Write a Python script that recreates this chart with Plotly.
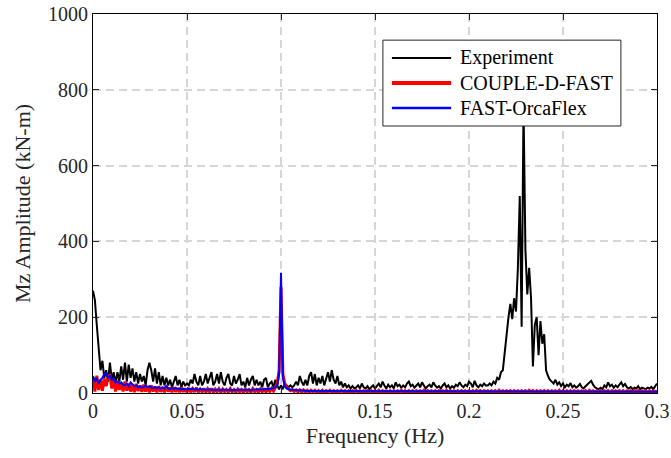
import numpy as np
import plotly.graph_objects as go

# Frequency grid (Hz), 0.001 Hz resolution
freq = np.round(np.linspace(0.0, 0.3, 301), 3)

# Mz amplitude spectra (kN-m), one value per frequency bin
experiment = [
    270, 245, 180, 110, 60, 85, 40, 60, 30, 80,
    35, 55, 25, 55, 30, 70, 35, 80, 30, 75,
    40, 65, 30, 55, 25, 50, 30, 45, 20, 60,
    80, 60, 30, 65, 25, 55, 20, 45, 20, 40,
    20, 35, 15, 30, 45, 20, 35, 15, 30, 20,
    25, 20, 35, 25, 50, 30, 20, 45, 20, 30,
    50, 25, 40, 55, 20, 30, 50, 25, 55, 30,
    20, 40, 50, 25, 20, 45, 25, 35, 50, 20,
    30, 15, 40, 20, 35, 45, 20, 35, 20, 30,
    15, 35, 40, 15, 25, 30, 15, 35, 20, 10,
    20, 10, 25, 20, 15, 20, 15, 20, 30, 20,
    45, 30, 20, 35, 20, 45, 55, 25, 50, 20,
    40, 25, 45, 20, 35, 55, 30, 60, 35, 25,
    45, 20, 30, 15, 25, 15, 20, 12, 18, 12,
    15, 20, 12, 25, 15, 12, 18, 10, 15, 20,
    12, 18, 25, 15, 30, 20, 12, 22, 15, 20,
    12, 28, 18, 22, 14, 20, 15, 25, 30, 18,
    22, 14, 20, 25, 15, 28, 20, 12, 18, 22,
    15, 28, 20, 14, 18, 12, 20, 25, 15, 20,
    12, 18, 14, 22, 18, 28, 20, 15, 22, 18,
    30, 25, 15, 32, 20, 15, 22, 18, 25, 20,
    20, 25, 20, 30, 25, 40, 35, 55, 60, 110,
    150, 200, 235, 195, 250, 215, 330, 520, 175, 760,
    380, 260, 330, 250, 70, 180, 200, 100, 190, 130,
    155, 60, 45, 35, 30, 25, 35, 22, 28, 18,
    25, 15, 22, 18, 26, 15, 20, 14, 18, 24,
    15, 12, 18, 22, 28, 32, 22, 15, 12, 10,
    14, 10, 20, 15, 28, 18, 22, 14, 20, 15,
    22, 28, 18, 24, 15, 12, 16, 10, 14, 12,
    18, 10, 14, 12, 10, 14, 12, 16, 10, 18,
    25,
]

couple_d_fast = [
    42, 4, 46, 8, 35, 6, 38, 18, 44, 46,
    12, 38, 4, 32, 8, 28, 4, 30, 6, 25,
    4, 22, 2, 24, 5, 20, 3, 22, 4, 18,
    2, 20, 4, 17, 2, 18, 3, 16, 2, 19,
    4, 14, 2, 15, 3, 13, 2, 14, 3, 12,
    2, 13, 2, 11, 3, 14, 2, 10, 3, 12,
    2, 11, 3, 12, 2, 10, 3, 11, 2, 10,
    3, 9, 2, 11, 3, 9, 2, 10, 3, 9,
    2, 10, 3, 9, 2, 11, 3, 9, 2, 10,
    3, 12, 2, 10, 4, 12, 5, 15, 25, 60,
    280, 50, 25, 15, 10, 6, 9, 4, 8, 3,
    8, 2, 8, 3, 7, 2, 7, 3, 7, 2,
    6, 2, 7, 1, 6, 3, 7, 2, 6, 1,
    6, 2, 7, 3, 6, 1, 6, 2, 6, 3,
    7, 1, 6, 2, 6, 3, 6, 1, 6, 2,
    6, 2, 7, 1, 6, 3, 6, 2, 6, 1,
    6, 2, 6, 3, 7, 1, 6, 2, 6, 2,
    6, 1, 6, 3, 6, 2, 7, 1, 6, 3,
    6, 2, 6, 1, 6, 3, 6, 2, 7, 1,
    6, 3, 6, 2, 6, 1, 6, 2, 6, 3,
    6, 1, 6, 2, 7, 3, 6, 1, 6, 2,
    6, 3, 6, 2, 6, 1, 7, 2, 6, 3,
    6, 2, 6, 1, 6, 3, 6, 2, 6, 1,
    6, 2, 7, 3, 6, 1, 6, 2, 6, 3,
    6, 1, 6, 2, 6, 3, 6, 2, 7, 1,
    6, 3, 6, 2, 6, 1, 6, 2, 6, 3,
    6, 2, 6, 1, 7, 3, 6, 2, 6, 1,
    6, 2, 6, 3, 6, 1, 6, 2, 6, 3,
    6, 1, 6, 2, 6, 3, 6, 2, 7, 1,
    6, 3, 6, 2, 6, 1, 6, 2, 6, 3,
    5,
]

fast_orcaflex = [
    45, 30, 40, 25, 35, 40, 50, 52, 40, 45,
    35, 38, 28, 30, 25, 28, 22, 20, 25, 18,
    28, 22, 18, 20, 15, 18, 14, 16, 20, 15,
    18, 14, 12, 16, 13, 15, 11, 14, 12, 18,
    12, 10, 13, 11, 14, 10, 12, 9, 11, 10,
    9, 11, 10, 12, 9, 10, 8, 11, 9, 10,
    8, 9, 10, 8, 9, 7, 9, 8, 7, 9,
    8, 7, 8, 9, 7, 8, 7, 8, 9, 8,
    7, 8, 9, 8, 7, 9, 8, 9, 10, 9,
    10, 9, 11, 10, 12, 11, 13, 15, 20, 50,
    317, 40, 18, 12, 10, 9, 8, 8, 7, 7,
    7, 6, 6, 6, 5, 5, 5, 5, 5, 4,
    4, 4, 4, 4, 4, 4, 4, 4, 4, 4,
    4, 4, 4, 3, 4, 4, 3, 4, 4, 3,
    4, 3, 4, 3, 4, 3, 3, 4, 3, 3,
    3, 3, 4, 3, 3, 3, 3, 3, 4, 3,
    3, 3, 3, 3, 3, 3, 3, 3, 3, 3,
    3, 3, 3, 3, 3, 3, 3, 3, 3, 3,
    3, 3, 3, 3, 3, 3, 3, 3, 3, 3,
    3, 3, 3, 3, 3, 3, 3, 3, 3, 3,
    3, 3, 3, 3, 3, 3, 3, 3, 3, 3,
    3, 3, 3, 3, 3, 3, 3, 3, 3, 3,
    3, 3, 3, 3, 3, 3, 3, 3, 3, 3,
    3, 3, 3, 3, 3, 3, 3, 3, 3, 3,
    3, 3, 3, 3, 3, 3, 3, 3, 3, 3,
    3, 3, 3, 3, 3, 3, 3, 3, 3, 3,
    3, 3, 3, 3, 3, 3, 3, 3, 3, 3,
    3, 3, 3, 3, 3, 3, 3, 3, 3, 3,
    3, 3, 3, 3, 3, 3, 3, 3, 3, 3,
    3, 3, 3, 3, 3, 3, 3, 3, 3, 3,
    3,
]

series_names = ["Experiment", "COUPLE-D-FAST", "FAST-OrcaFlex"]
series_colors = ["#000000", "#ff0000", "#0000ff"]
series_widths = [2.0, 3.0, 2.0]

x_tickvals = [0, 0.05, 0.1, 0.15, 0.2, 0.25, 0.3]
x_ticktext = ["0", "0.05", "0.1", "0.15", "0.2", "0.25", "0.3"]
y_tickvals = [0, 200, 400, 600, 800, 1000]

FONT = "Liberation Serif"
TEXT = "#262626"

fig = go.Figure()
for name, ys, color, width in zip(series_names,
                                  [experiment, couple_d_fast, fast_orcaflex],
                                  series_colors, series_widths):
    fig.add_trace(go.Scatter(x=freq, y=ys, mode="lines", name=name,
                             line=dict(color=color, width=width),
                             showlegend=False))

axis_common = dict(
    showline=True, linecolor="#000000", linewidth=1, mirror="ticks",
    ticks="inside", ticklen=6, tickcolor="#262626", tickwidth=1,
    showgrid=True, gridcolor="#d6d6d6", gridwidth=1.5, griddash="8px,5px",
    zeroline=False, automargin=False,
    tickfont=dict(family=FONT, size=20, color=TEXT),
)

fig.update_xaxes(range=[0, 0.3], tickvals=x_tickvals, ticktext=x_ticktext,
                 title=dict(text="Frequency (Hz)", standoff=6,
                            font=dict(family=FONT, size=22, color=TEXT)),
                 **axis_common)
fig.update_yaxes(range=[0, 1000], tickvals=y_tickvals,
                 title=dict(text="Mz Amplitude (kN-m)", standoff=11,
                            font=dict(family=FONT, size=22, color=TEXT)),
                 **axis_common)

# Legend box drawn in plot-area (paper) coordinates
box_x0, box_x1 = 0.514, 0.936
box_y0, box_y1 = 0.7045, 0.931
sample_x0, sample_x1 = 0.530, 0.635
text_x = 0.647
row_y = [0.884, 0.818, 0.752]

shapes = [dict(type="rect", xref="paper", yref="paper",
               x0=box_x0, x1=box_x1, y0=box_y0, y1=box_y1,
               fillcolor="#ffffff", line=dict(color="#262626", width=1),
               layer="above")]
annotations = []
for name, color, width, yy in zip(series_names, series_colors,
                                  [2.0, 4.0, 2.5], row_y):
    shapes.append(dict(type="line", xref="paper", yref="paper",
                       x0=sample_x0, x1=sample_x1, y0=yy, y1=yy,
                       line=dict(color=color, width=width), layer="above"))
    annotations.append(dict(xref="paper", yref="paper", x=text_x, y=yy,
                            text=name, showarrow=False, xanchor="left",
                            yanchor="middle",
                            font=dict(family=FONT, size=20, color="#000000")))

fig.update_layout(
    width=671, height=458,
    margin=dict(l=93, r=14, t=14, b=65),
    paper_bgcolor="#ffffff", plot_bgcolor="#ffffff",
    font=dict(family=FONT, color=TEXT),
    shapes=shapes, annotations=annotations,
    showlegend=False,
)

fig.write_html("out.html")
